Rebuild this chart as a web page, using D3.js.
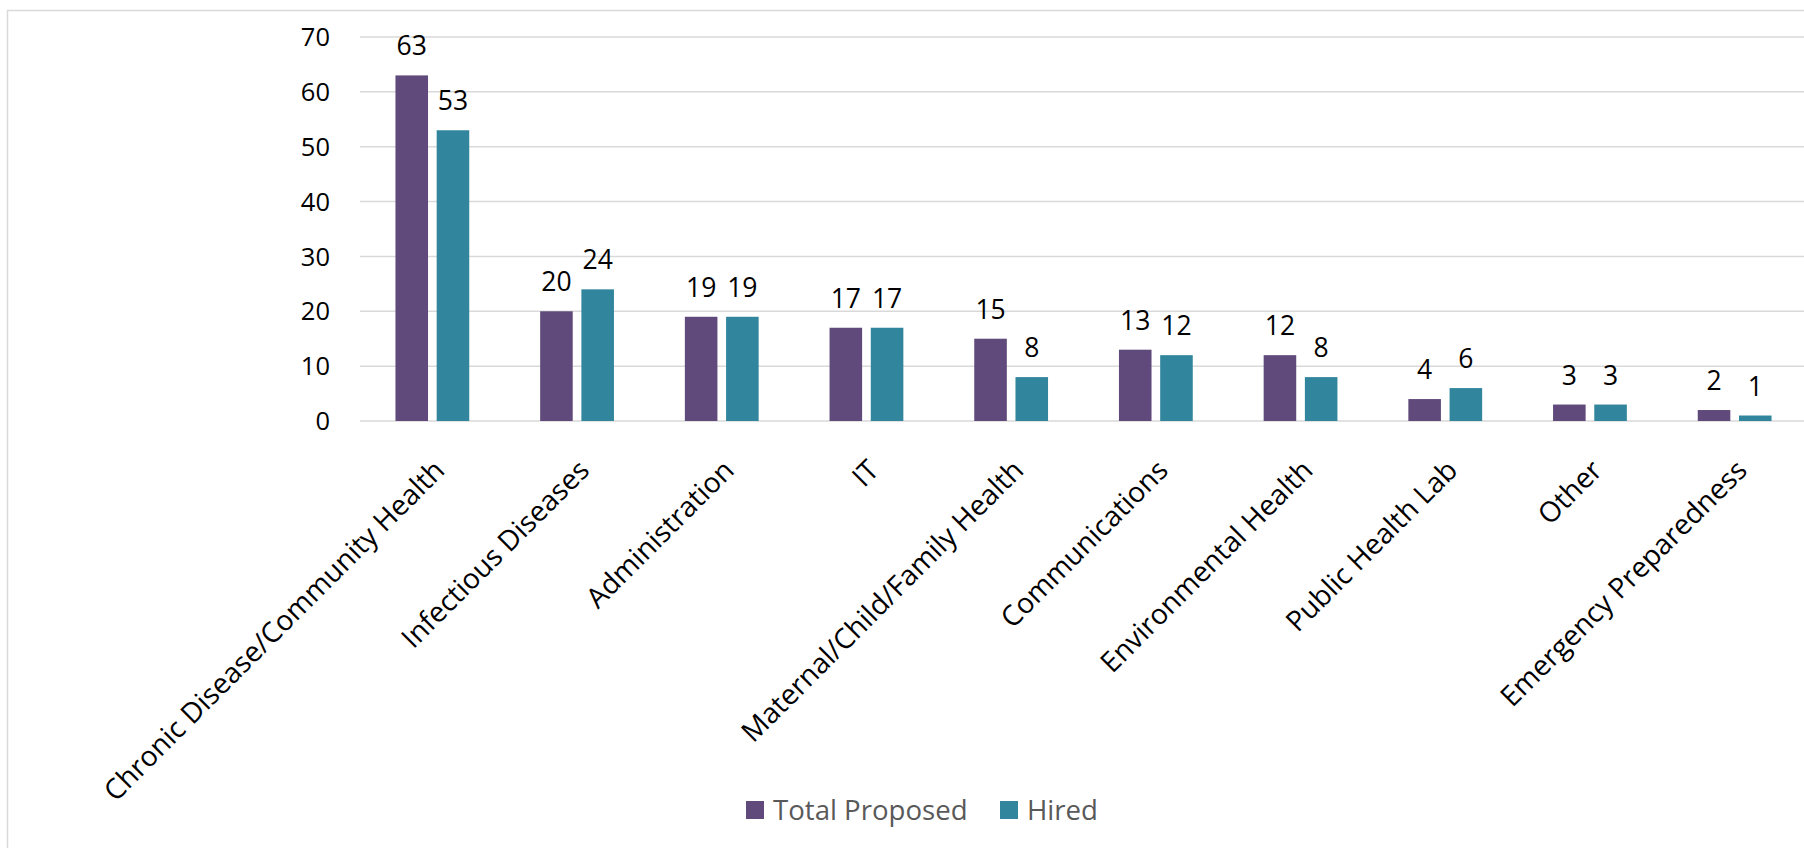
<!DOCTYPE html>
<html>
<head>
<meta charset="utf-8">
<script src="https://cdn.jsdelivr.net/npm/d3@7"></script>
<style>
  html, body { margin: 0; padding: 0; background: #fff; }
  svg { display: block; }
  text { font-family: "Open Sans", "Lato", sans-serif; }
</style>
</head>
<body>
<svg id="chart" width="1804" height="848"></svg>
<script>
const categories = ["Chronic Disease/Community Health", "Infectious Diseases", "Administration", "IT",
  "Maternal/Child/Family Health", "Communications", "Environmental Health", "Public Health Lab",
  "Other", "Emergency Preparedness"];
const seriesNames = ["Total Proposed", "Hired"];
const totalProposed = [63, 20, 19, 17, 15, 13, 12, 4, 3, 2];
const hired = [53, 24, 19, 17, 8, 12, 8, 6, 3, 1];
const yTicks = [0, 10, 20, 30, 40, 50, 60, 70];
const colors = ["#604A7B", "#31859C"];

const seriesValues = [totalProposed, hired];
const svg = d3.select("#chart");

// chart area border
svg.append("rect")
  .attr("x", 7.5).attr("y", 10.5)
  .attr("width", 1900).attr("height", 1000)
  .attr("fill", "none").attr("stroke", "#d9d9d9").attr("stroke-width", 1.5);

const x0 = d3.scaleBand().domain(categories).range([360, 1807]).paddingInner(0.49).paddingOuter(0.245);
const x1 = d3.scaleBand().domain(d3.range(seriesNames.length)).range([0, x0.bandwidth()]).paddingInner(0.21);
const y = d3.scaleLinear().domain([0, 70]).range([421, 37]);

// gridlines
svg.append("g").selectAll("line").data(yTicks).join("line")
  .attr("x1", 360).attr("x2", 1804)
  .attr("y1", d => y(d)).attr("y2", d => y(d))
  .attr("stroke", "#d9d9d9").attr("stroke-width", 1.5);

// y tick labels
svg.append("g").selectAll("text").data(yTicks).join("text")
  .attr("x", 330).attr("y", d => y(d))
  .attr("dy", "0.36em")
  .attr("text-anchor", "end")
  .attr("font-size", 25.5)
  .attr("fill", "#000")
  .text(d => d);

// bars
const groups = svg.append("g").selectAll("g").data(categories).join("g")
  .attr("transform", d => `translate(${x0(d)},0)`);

groups.selectAll("rect").data((d, i) => seriesValues.map((s, k) => ({k, v: s[i]}))).join("rect")
  .attr("x", d => x1(d.k))
  .attr("width", x1.bandwidth())
  .attr("y", d => y(d.v))
  .attr("height", d => y(0) - y(d.v))
  .attr("fill", d => colors[d.k]);

groups.selectAll("text").data((d, i) => seriesValues.map((s, k) => ({k, v: s[i]}))).join("text")
  .attr("x", d => x1(d.k) + x1.bandwidth() / 2)
  .attr("y", d => y(d.v) - 20)
  .attr("text-anchor", "middle")
  .attr("font-size", 26.5)
  .attr("fill", "#000")
  .text(d => d.v);

// category labels
svg.append("g").selectAll("text").data(categories).join("text")
  .attr("transform", d => `translate(${x0(d) + x0.bandwidth() / 2 + 7},465) rotate(-45)`)
  .attr("text-anchor", "end")
  .attr("dy", "0.35em")
  .attr("font-size", 28.2)
  .attr("fill", "#000")
  .text(d => d);

// legend
const legendX = [746, 1000];
const legend = svg.append("g").selectAll("g").data(seriesNames).join("g")
  .attr("transform", (d, i) => `translate(${legendX[i]},801)`);
legend.append("rect").attr("width", 18).attr("height", 18).attr("fill", (d, i) => colors[i]);
legend.append("text").attr("x", 27).attr("y", 19)
  .attr("font-size", 27.6).attr("fill", "#595959").text(d => d);
</script>
</body>
</html>
